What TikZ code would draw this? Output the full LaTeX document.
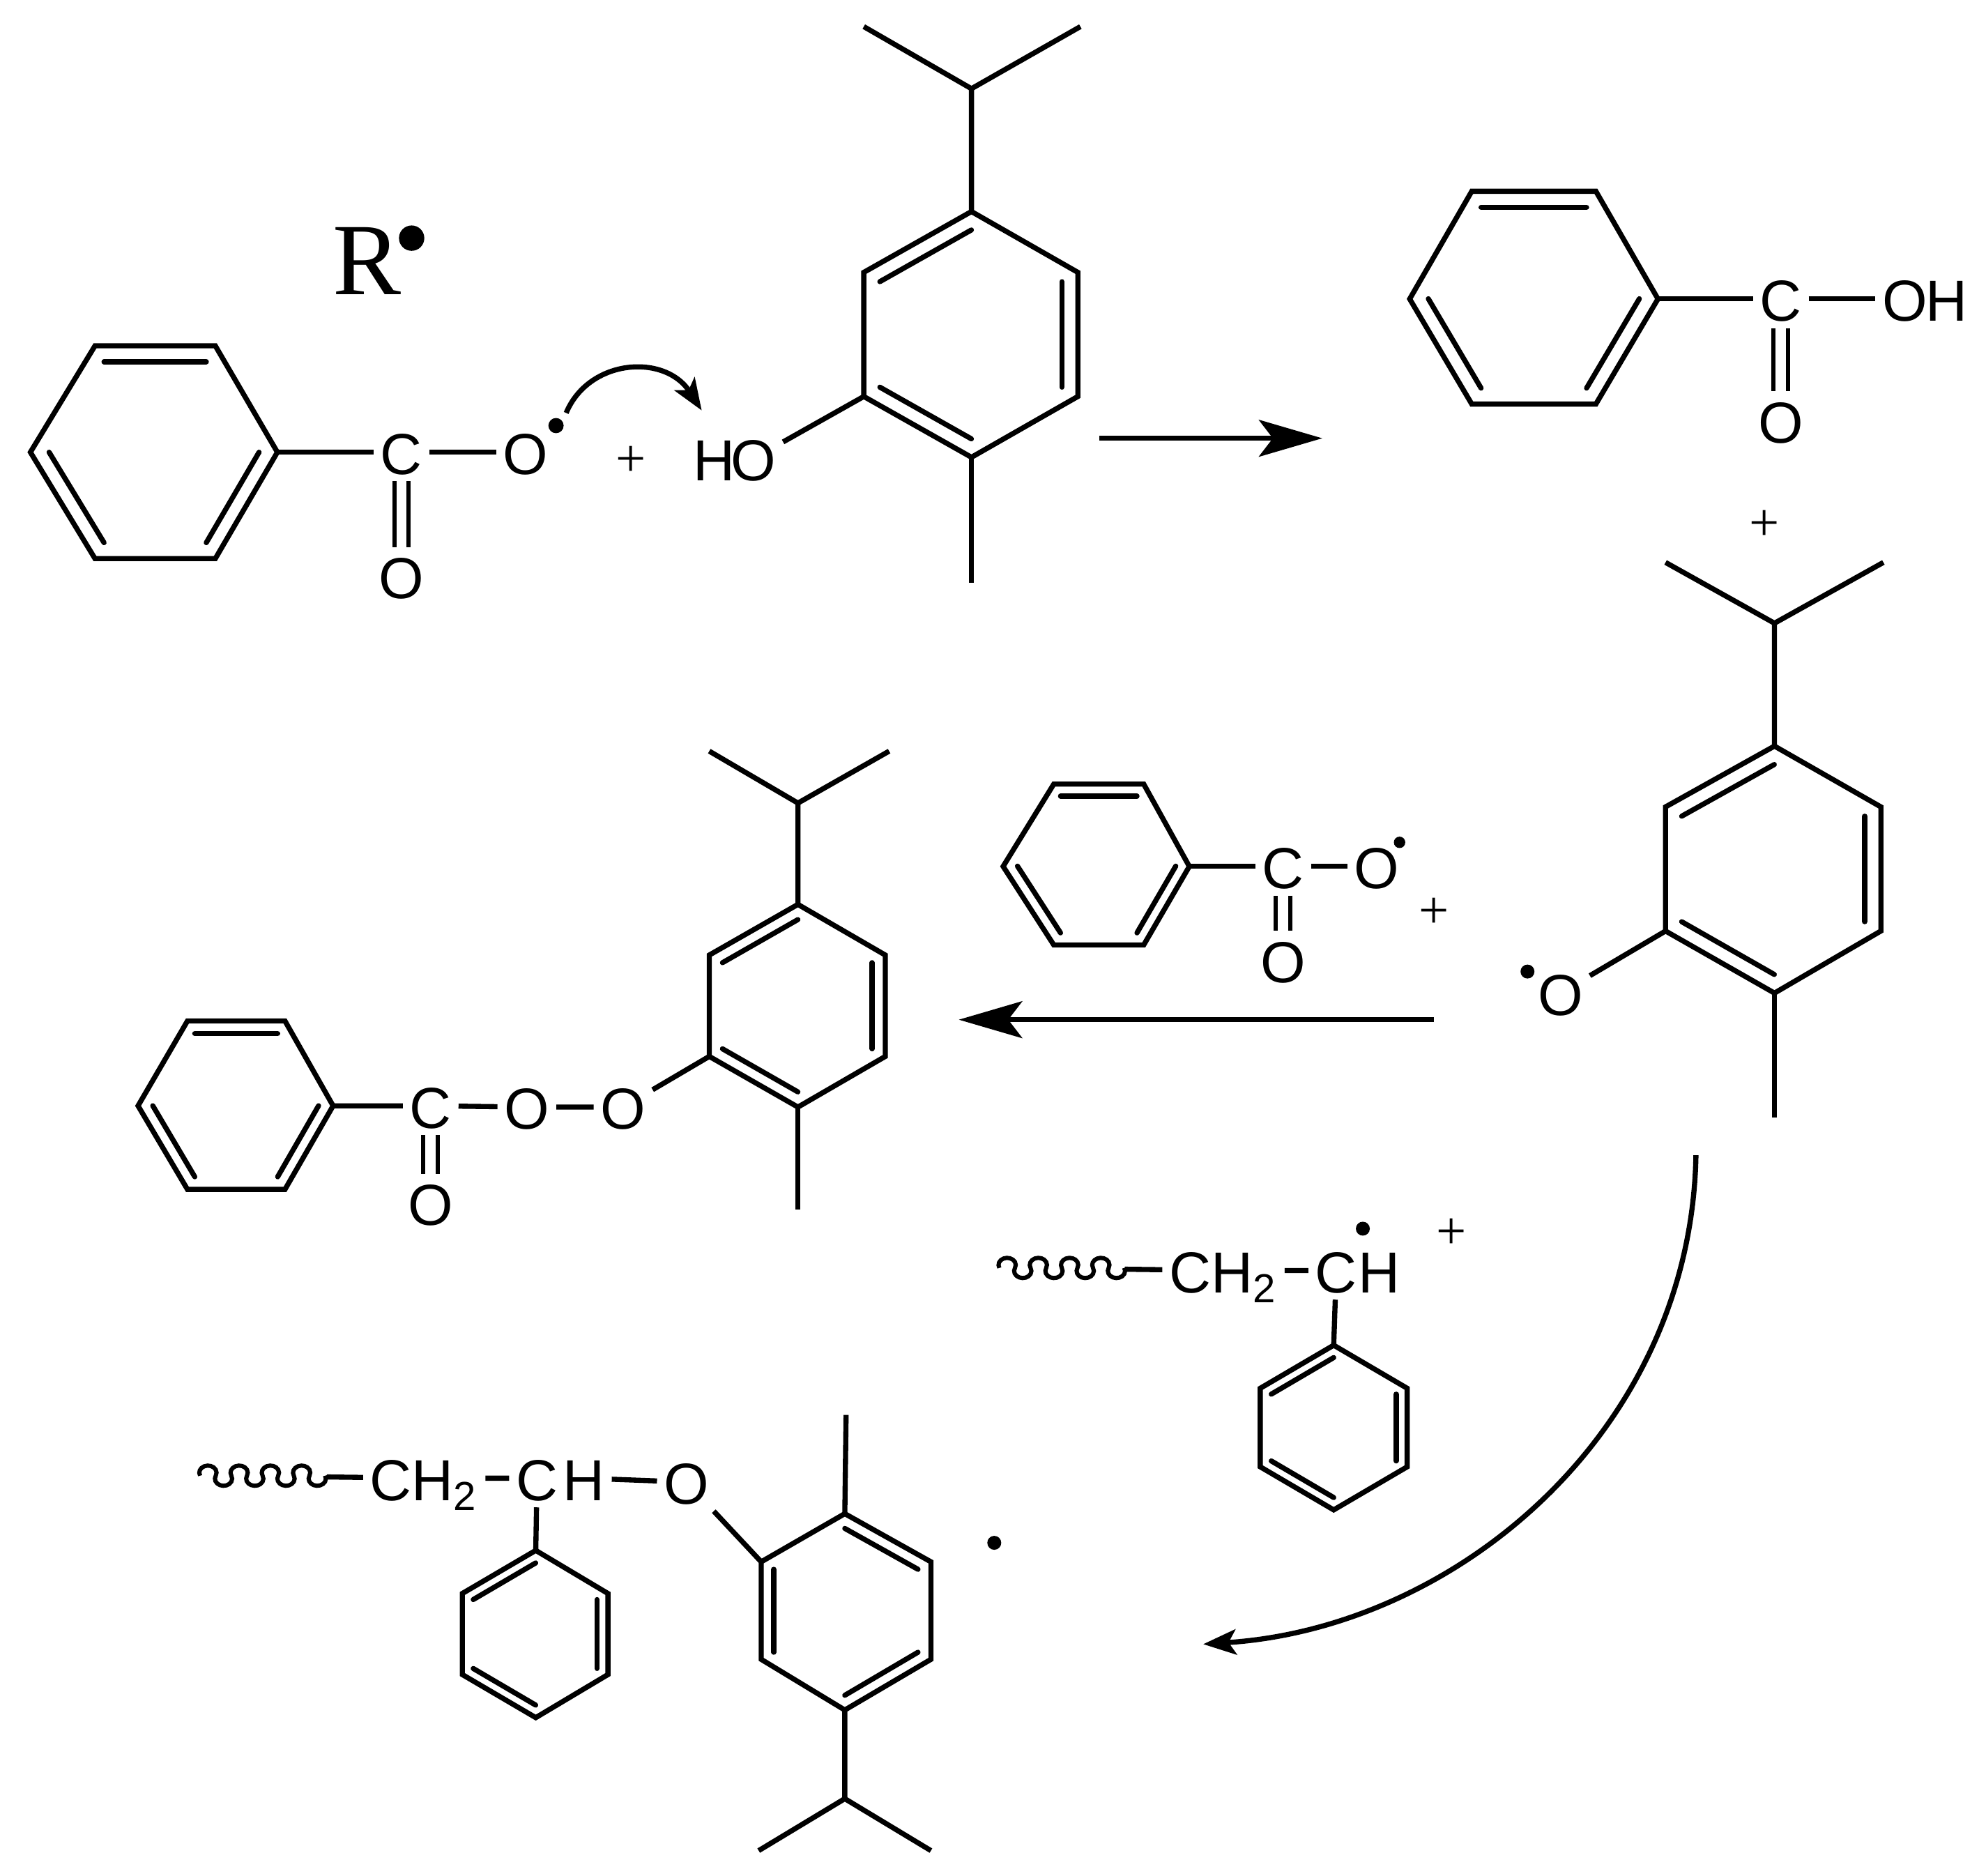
\documentclass[tikz,border=0pt]{standalone}
\usepackage{fontspec}
\setmainfont{Liberation Sans}
\newfontfamily\serifface{Liberation Serif}
\usepackage{tikz}
\usetikzlibrary{calc,arrows.meta}
\tikzset{
  atom/.style={font=\fontsize{13}{15}\selectfont, inner sep=0pt, outer sep=.055cm, text height=.35cm, text depth=0pt, xshift=.01cm},
  plussign/.style={font=\serifface\fontsize{12}{14}\selectfont, inner sep=0pt, yshift=-.01cm},
  radical/.style={circle, fill=black, inner sep=0pt, minimum size=.11cm},
  dblbond/.style={double, double distance=.08cm, line width=.95pt},
  bigarrow/.style={-{Stealth[length=.5cm,width=.29cm,inset=.11cm]}},
  smallarrow/.style={-{Stealth[length=.25cm,width=.19cm,inset=.06cm]}}
}
\newcommand{\hexring}[7]{
\coordinate [] (#1a) at #2;
\coordinate [] (#1b) at #3;
\coordinate [] (#1c) at #4;
\coordinate [] (#1d) at #5;
\coordinate [] (#1e) at #6;
\coordinate [] (#1f) at #7;
\coordinate [] (#1o) at ($(#1a)!.5!(#1d)$);
\draw (#1a) -- (#1b) -- (#1c) -- (#1d) -- (#1e) -- (#1f) -- cycle;
\draw[line cap=round] ($(#1a)!.15!(#1o)$) -- ($(#1b)!.15!(#1o)$);
\draw[line cap=round] ($(#1c)!.15!(#1o)$) -- ($(#1d)!.15!(#1o)$);
\draw[line cap=round] ($(#1e)!.15!(#1o)$) -- ($(#1f)!.15!(#1o)$);
}
\newcommand{\wavychain}[1]{
\draw[line width=.95pt] #1 \foreach \i in {1,...,4} {arc[start angle=205,end angle=-25,x radius=.068cm,y radius=.056cm] arc[start angle=155,end angle=385,x radius=.068cm,y radius=.056cm]};
}
\begin{document}
\begin{tikzpicture}[x=.01cm,y=-.01cm,line width=1.15pt]
\useasboundingbox (0,0) rectangle (1568,1481);
\node[font=\serifface\fontsize{23}{25}\selectfont, inner sep=0pt] (rgroup) at (290,206) {R};
\node[radical, minimum size=.2cm] (rdot) at (325,188) {};

\hexring{p}{(75,273)}{(170,273)}{(219,357)}{(170,441)}{(75,441)}{(24,357)}
\node[atom] (c1) at (316,357) {C};
\node[atom] (o1) at (414,357) {O};
\node[atom] (o2) at (316,455) {O};
\node[radical, minimum size=.12cm] (dot1) at (439,336) {};
\draw (pc) -- (c1) -- (o1);
\draw[dblbond] (c1) -- (o2);
\coordinate [] (curvea) at (447,326);
\coordinate [] (curveb) at (554,324);
\draw[smallarrow] (curvea) .. controls (465,283) and (525,279) .. (curveb);
\node[plussign] (plus1) at (498,363) {+};

\hexring{t}{(682,215)}{(767,167)}{(851,215)}{(851,313)}{(767,361)}{(682,313)}
\node[atom] (h1) at (563,362) {H};
\node[atom] (o3) at (594,362) {O};
\coordinate [] (ch1) at (767,70);
\coordinate [] (me1) at (682,21);
\coordinate [] (me2) at (853,21);
\coordinate [] (me3) at (767,460);
\draw (o3) -- (tf);
\draw (tb) -- (ch1) -- (me1);
\draw (ch1) -- (me2);
\draw (te) -- (me3);

\coordinate [] (arra) at (868,346);
\coordinate [] (arrb) at (1044,346);
\draw[bigarrow] (arra) -- (arrb);

\hexring{q}{(1162,151)}{(1260,151)}{(1309,236)}{(1260,319)}{(1162,319)}{(1113,236)}
\node[atom] (c2) at (1405,236) {C};
\node[atom] (o4) at (1503,236) {O};
\node[atom] (h2) at (1536,236) {H};
\node[atom] (o5) at (1405,332) {O};
\draw (qc) -- (c2) -- (o4);
\draw[dblbond] (c2) -- (o5);
\node[plussign] (plus2) at (1393,414) {+};

\hexring{u}{(1315,637)}{(1401,589)}{(1485,637)}{(1485,735)}{(1401,784)}{(1315,735)}
\node[atom] (o6) at (1231,784) {O};
\node[radical] (dot2) at (1206,767) {};
\coordinate [] (ch2) at (1401,492);
\coordinate [] (me4) at (1315,444);
\coordinate [] (me5) at (1487,444);
\coordinate [] (me6) at (1401,882);
\draw (o6) -- (uf);
\draw (ub) -- (ch2) -- (me4);
\draw (ch2) -- (me5);
\draw (ue) -- (me6);

\hexring{v}{(832,619)}{(903,619)}{(939,684)}{(903,746)}{(832,746)}{(792,684)}
\node[atom] (c3) at (1012,684) {C};
\node[atom] (o7) at (1086,684) {O};
\node[atom] (o8) at (1012,758) {O};
\node[radical, minimum size=.09cm] (dot3) at (1105,665) {};
\draw (vc) -- (c3) -- (o7);
\draw[dblbond] (c3) -- (o8);
\node[plussign] (plus3) at (1132,720) {+};

\coordinate [] (arrc) at (1132,805);
\coordinate [] (arrd) at (757,805);
\draw[bigarrow] (arrc) -- (arrd);

\hexring{w}{(560,754)}{(630,714)}{(699,754)}{(699,834)}{(630,874)}{(560,834)}
\coordinate [] (ch3) at (630,634);
\coordinate [] (me7) at (560,593);
\coordinate [] (me8) at (702,593);
\coordinate [] (me9) at (630,955);
\draw (wb) -- (ch3) -- (me7);
\draw (ch3) -- (me8);
\draw (we) -- (me9);
\node[atom] (o9) at (491,874) {O};
\node[atom] (o10) at (415,874) {O};
\node[atom] (c4) at (339,873) {C};
\node[atom] (o11) at (339,950) {O};
\hexring{s}{(148,806)}{(225,806)}{(263,873)}{(225,939)}{(148,939)}{(109,873)}
\draw (wf) -- (o9) -- (o10) -- (c4) -- (sc);
\draw[dblbond] (c4) -- (o11);

\coordinate [] (arre) at (1339,912);
\coordinate [] (arrf) at (950,1298);
\draw[-{Stealth[length=.26cm,width=.2cm,inset=.06cm]}] (arre) .. controls (1335,1130) and (1150,1285) .. (arrf);

\coordinate [] (wavea) at (789,1001);
\coordinate [] (waveb) at (888,1002);
\wavychain{(wavea)}
\node[atom] (ch2a) at (965,1003) {CH\textsubscript{2}};
\node[atom] (c5) at (1054,1003) {C};
\node[atom] (h3) at (1088,1003) {H};
\node[radical] (dot4) at (1076,970) {};
\node[plussign] (plus4) at (1146,973) {+};
\draw (waveb) -- (ch2a) -- (c5);
\hexring{x}{(995,1096)}{(1053,1062)}{(1111,1096)}{(1111,1158)}{(1053,1192)}{(995,1158)}
\draw (c5) -- (xb);

\coordinate [] (wavec) at (158,1165);
\coordinate [] (waved) at (258,1166);
\wavychain{(wavec)}
\node[atom] (ch2b) at (334,1167) {CH\textsubscript{2}};
\node[atom] (c6) at (423,1167) {C};
\node[atom] (h4) at (460,1167) {H};
\node[atom] (o12) at (541,1170) {O};
\draw (waved) -- (ch2b) -- (c6);
\draw (h4) -- (o12);
\hexring{y}{(365,1258)}{(423,1224)}{(480,1258)}{(480,1322)}{(423,1356)}{(365,1322)}
\draw (c6) -- (yb);
\hexring{z}{(667,1195)}{(735,1233)}{(735,1310)}{(667,1350)}{(601,1310)}{(601,1233)}
\coordinate [] (me10) at (668,1117);
\coordinate [] (ch4) at (667,1420);
\coordinate [] (me11) at (599,1461);
\coordinate [] (me12) at (735,1461);
\draw (o12) -- (zf);
\draw (za) -- (me10);
\draw (zd) -- (ch4) -- (me11);
\draw (ch4) -- (me12);
\node[radical] (dot5) at (785,1218) {};
\end{tikzpicture}
\end{document}
